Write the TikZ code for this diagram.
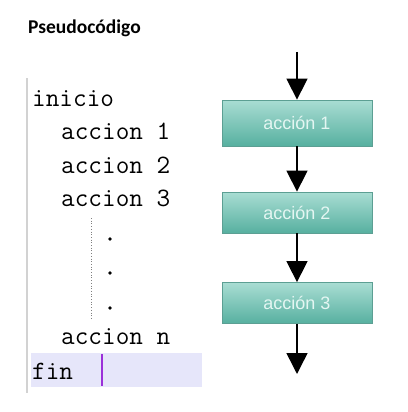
\documentclass[tikz,border=0pt]{standalone}
\usepackage{fontspec}
\setmainfont{Liberation Sans}
\newfontfamily\titlefont{Carlito}
\usetikzlibrary{arrows.meta}
\definecolor{boxtop}{HTML}{A9DDD3}
\definecolor{boxbot}{HTML}{57B0A0}
\definecolor{boxline}{HTML}{5C9F93}
\definecolor{boxtext}{HTML}{E4F6F2}
\definecolor{hilite}{HTML}{E6E6FA}
\definecolor{cursor}{HTML}{9B30D9}
\definecolor{gutter}{HTML}{D2D2D2}
\tikzset{
  flowbox/.style={draw=boxline, line width=0.8pt, top color=boxtop, bottom color=boxbot,
    minimum width=150pt, minimum height=41pt, inner sep=0pt,
    font=\fontsize{18}{18}\selectfont, text=boxtext},
  flowarrow/.style={line width=1.5pt, -{Triangle[width=21pt,length=21pt]}},
  code/.style={anchor=west, inner sep=0pt, font=\ttfamily\fontsize{26.5}{26.5}\selectfont},
}
\begin{document}
\begin{tikzpicture}[x=1pt,y=-1pt]
\useasboundingbox (0,0) rectangle (407,412);
% title
\node[anchor=base west, inner sep=0pt, font=\titlefont\bfseries\fontsize{19.5}{19.5}\selectfont] (title) at (28,34) {Pseudocódigo};
% editor
\draw[gutter, line width=2pt] (27,78) -- (27,393);
\fill[hilite] (31,353) rectangle (202,387);
\draw[cursor, line width=2pt] (102,354) -- (102,386);
\draw[gray, dotted, line width=0.7pt] (91,218) -- (91,318);
\node[code] (l0) at (32,99) {inicio};
\node[code] (l1) at (61,131) {accion 1};
\node[code] (l2) at (61,165) {accion 2};
\node[code] (l3) at (61,198) {accion 3};
\node[code] (ln) at (61,337) {accion n};
\node[code] (lf) at (32,371) {fin};
\foreach \y/\n in {239/d1,273/d2,308/d3}
  \fill (110,\y) circle (1.8pt) coordinate (\n);
% flowchart
\coordinate (start) at (297,52);
\node[flowbox, minimum height=46pt] (a1) at (297,123) {acción 1};
\node[flowbox] (a2) at (297,212.5) {acción 2};
\node[flowbox] (a3) at (297,303) {acción 3};
\coordinate (end) at (297,374);
\draw[flowarrow] (start) -- (a1.north);
\draw[flowarrow] (a1.south) -- (a2.north);
\draw[flowarrow] (a2.south) -- (a3.north);
\draw[flowarrow] (a3.south) -- (end);
\end{tikzpicture}
\end{document}
